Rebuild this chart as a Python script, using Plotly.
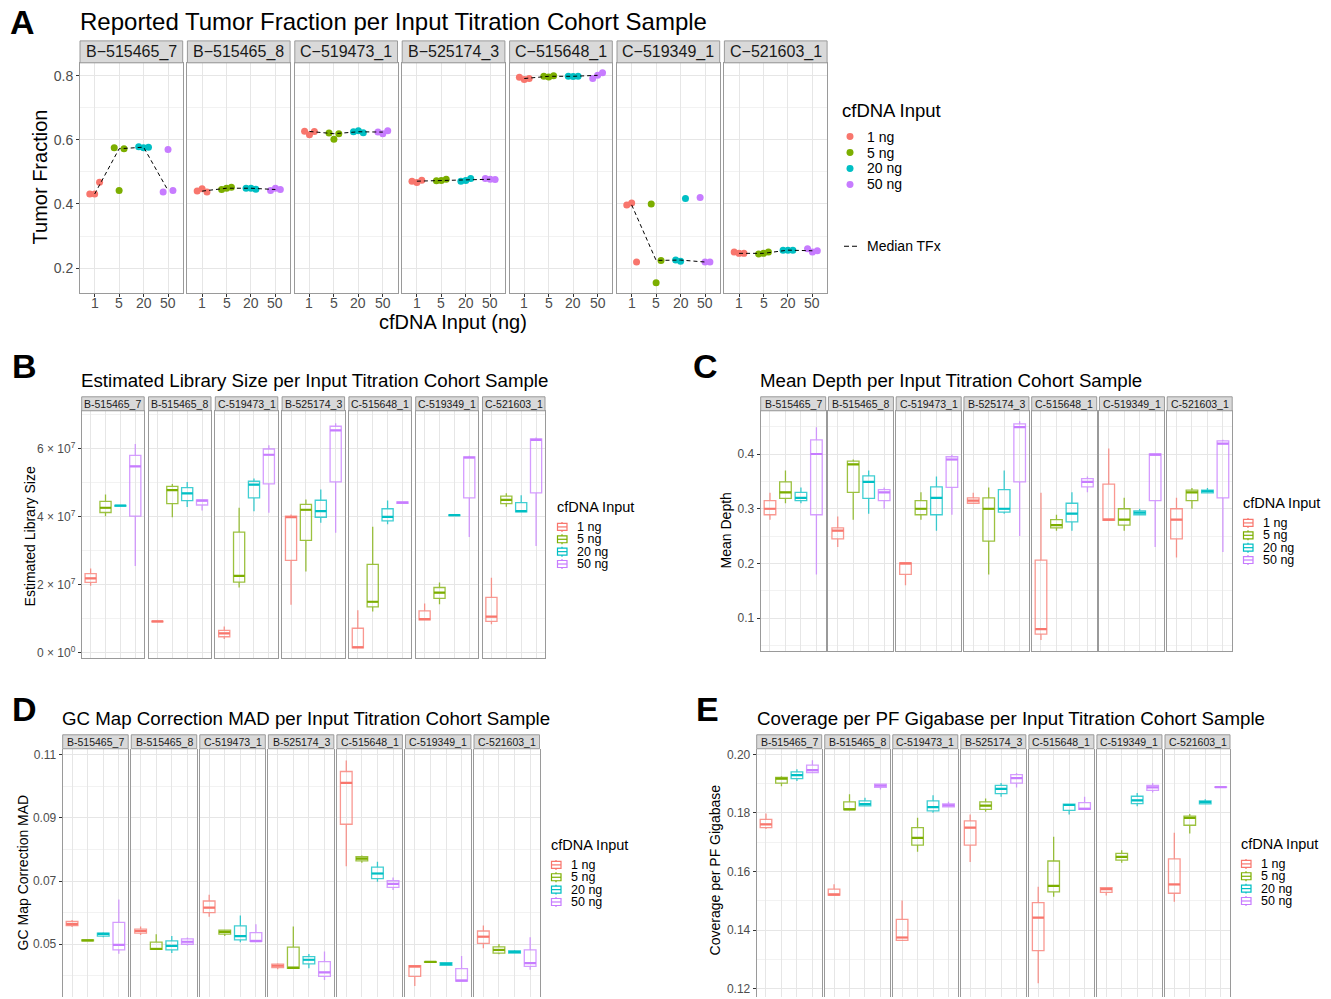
import numpy as np
import plotly.graph_objects as go

W, H = 1331, 999
FONT = "Liberation Sans, Arial, Helvetica, sans-serif"
COLORS = ["#F8766D", "#7CAE00", "#00BFC4", "#C77CFF"]
INPUT_TICKS = ["1", "5", "20", "50"]
INPUT_LABELS = ["1 ng", "5 ng", "20 ng", "50 ng"]
SAMPLES = ["B-515465_7", "B-515465_8", "C-519473_1", "B-525174_3",
           "C-515648_1", "C-519349_1", "C-521603_1"]

# ---- Panel A: reported tumor fraction, 3 replicates per sample (rows) ----
TF_1NG = [[0.431, 0.431, 0.468], [0.440, 0.447, 0.437], [0.627, 0.616, 0.626],
          [0.471, 0.467, 0.474], [0.795, 0.788, 0.791], [0.397, 0.403, 0.219],
          [0.250, 0.246, 0.246]]
TF_5NG = [[0.575, 0.442, 0.572], [0.445, 0.449, 0.452], [0.621, 0.602, 0.619],
          [0.472, 0.473, 0.477], [0.798, 0.796, 0.800], [0.400, 0.154, 0.224],
          [0.244, 0.246, 0.250]]
TF_20NG = [[0.578, 0.575, 0.577], [0.449, 0.449, 0.446], [0.625, 0.628, 0.622],
           [0.471, 0.473, 0.479], [0.798, 0.797, 0.798], [0.225, 0.221, 0.417],
           [0.256, 0.256, 0.256]]
TF_50NG = [[0.437, 0.570, 0.442], [0.442, 0.449, 0.445], [0.624, 0.619, 0.628],
           [0.479, 0.477, 0.476], [0.791, 0.801, 0.809], [0.420, 0.219, 0.219],
           [0.260, 0.250, 0.254]]

# ---- Panel B: estimated library size (x 10^7); rows = samples, cols = inputs ----
LIB_LO = [[1.96, 4.01, 4.30, 2.54], [0.89, 3.98, 4.28, 4.18], [0.39, 1.91, 4.16, 4.11],
          [1.40, 2.38, 3.82, 3.52], [0.12, 1.20, 3.77, 4.38], [0.96, 1.42, 4.02, 3.40],
          [0.83, 4.29, 4.14, 3.13]]
LIB_Q1 = [[2.06, 4.12, 4.31, 4.01], [0.90, 4.38, 4.47, 4.34], [0.46, 2.07, 4.55, 4.96],
          [2.71, 3.30, 3.98, 5.02], [0.13, 1.34, 3.87, 4.39], [0.96, 1.59, 4.03, 4.55],
          [0.91, 4.38, 4.14, 4.70]]
LIB_MED = [[2.18, 4.26, 4.32, 5.48], [0.91, 4.78, 4.68, 4.47], [0.56, 2.25, 4.94, 5.82],
           [3.98, 4.20, 4.16, 6.54], [0.15, 1.49, 3.99, 4.41], [0.98, 1.76, 4.04, 5.74],
           [1.05, 4.49, 4.16, 6.26]]
LIB_Q3 = [[2.32, 4.45, 4.33, 5.80], [0.92, 4.89, 4.85, 4.49], [0.65, 3.54, 5.04, 5.99],
          [4.01, 4.36, 4.48, 6.66], [0.71, 2.59, 4.23, 4.43], [1.22, 1.91, 4.05, 5.76],
          [1.62, 4.60, 4.41, 6.29]]
LIB_HI = [[2.47, 4.65, 4.34, 6.14], [0.93, 4.96, 5.02, 4.50], [0.76, 4.26, 5.12, 6.10],
          [4.06, 4.50, 4.80, 6.75], [1.24, 3.70, 4.47, 4.44], [1.44, 2.06, 4.06, 5.79],
          [2.20, 4.69, 4.63, 6.33]]
LIB_UNIT = 1e7

# ---- Panel C: mean depth ----
DEP_LO = [[0.280, 0.310, 0.310, 0.180], [0.230, 0.280, 0.291, 0.300], [0.160, 0.280, 0.260, 0.289],
          [0.310, 0.180, 0.291, 0.250], [0.060, 0.260, 0.260, 0.330], [0.279, 0.260, 0.289, 0.230],
          [0.211, 0.300, 0.329, 0.221]]
DEP_Q1 = [[0.289, 0.319, 0.315, 0.289], [0.245, 0.330, 0.319, 0.315], [0.180, 0.289, 0.289, 0.339],
          [0.310, 0.241, 0.294, 0.349], [0.071, 0.265, 0.276, 0.340], [0.279, 0.270, 0.289, 0.315],
          [0.245, 0.315, 0.329, 0.320]]
DEP_MED = [[0.300, 0.330, 0.320, 0.400], [0.260, 0.381, 0.349, 0.330], [0.200, 0.300, 0.320, 0.390],
           [0.315, 0.300, 0.300, 0.449], [0.080, 0.270, 0.291, 0.349], [0.280, 0.280, 0.293, 0.399],
           [0.280, 0.330, 0.332, 0.419]]
DEP_Q3 = [[0.315, 0.349, 0.330, 0.426], [0.265, 0.387, 0.360, 0.335], [0.201, 0.315, 0.340, 0.395],
          [0.320, 0.320, 0.335, 0.455], [0.206, 0.280, 0.310, 0.355], [0.345, 0.300, 0.296, 0.400],
          [0.300, 0.334, 0.334, 0.424]]
DEP_HI = [[0.329, 0.370, 0.339, 0.449], [0.286, 0.390, 0.370, 0.339], [0.201, 0.330, 0.359, 0.399],
          [0.329, 0.339, 0.370, 0.460], [0.329, 0.289, 0.330, 0.359], [0.410, 0.320, 0.300, 0.400],
          [0.320, 0.338, 0.338, 0.426]]

# ---- Panel D: GC map correction MAD ----
GC_LO = [[0.0555, 0.0510, 0.0522, 0.0470], [0.0529, 0.0484, 0.0472, 0.0496], [0.0587, 0.0526, 0.0506, 0.0509],
         [0.0421, 0.0424, 0.0424, 0.0387], [0.0747, 0.0758, 0.0698, 0.0672], [0.0368, 0.0443, 0.0433, 0.0383],
         [0.0487, 0.0468, 0.0472, 0.0419]]
GC_Q1 = [[0.0559, 0.0511, 0.0526, 0.0482], [0.0535, 0.0484, 0.0482, 0.0500], [0.0600, 0.0532, 0.0514, 0.0509],
         [0.0426, 0.0424, 0.0438, 0.0398], [0.0880, 0.0764, 0.0708, 0.0680], [0.0398, 0.0443, 0.0433, 0.0383],
         [0.0503, 0.0472, 0.0472, 0.0430]]
GC_MED = [[0.0564, 0.0512, 0.0533, 0.0498], [0.0542, 0.0485, 0.0495, 0.0508], [0.0616, 0.0539, 0.0526, 0.0510],
          [0.0432, 0.0425, 0.0451, 0.0411], [0.1011, 0.0771, 0.0724, 0.0691], [0.0430, 0.0444, 0.0438, 0.0385],
          [0.0524, 0.0482, 0.0476, 0.0440]]
GC_Q3 = [[0.0572, 0.0514, 0.0535, 0.0569], [0.0548, 0.0507, 0.0511, 0.0517], [0.0637, 0.0545, 0.0558, 0.0537],
         [0.0437, 0.0491, 0.0461, 0.0445], [0.1047, 0.0777, 0.0744, 0.0701], [0.0432, 0.0445, 0.0442, 0.0423],
         [0.0542, 0.0492, 0.0479, 0.0482]]
GC_HI = [[0.0577, 0.0515, 0.0538, 0.0642], [0.0556, 0.0532, 0.0526, 0.0521], [0.0657, 0.0547, 0.0591, 0.0563],
         [0.0440, 0.0556, 0.0469, 0.0477], [0.1082, 0.0781, 0.0761, 0.0711], [0.0433, 0.0445, 0.0444, 0.0463],
         [0.0559, 0.0501, 0.0482, 0.0522]]

# ---- Panel E: coverage per PF gigabase ----
COV_LO = [[0.1745, 0.1891, 0.1909, 0.1938], [0.1520, 0.1811, 0.1824, 0.1880], [0.1365, 0.1668, 0.1801, 0.1821],
          [0.1633, 0.1804, 0.1855, 0.1887], [0.1219, 0.1514, 0.1795, 0.1812], [0.1518, 0.1630, 0.1823, 0.1870],
          [0.1497, 0.1730, 0.1831, 0.1886]]
COV_Q1 = [[0.1750, 0.1902, 0.1917, 0.1938], [0.1520, 0.1811, 0.1824, 0.1887], [0.1365, 0.1690, 0.1807, 0.1821],
          [0.1690, 0.1812, 0.1866, 0.1902], [0.1330, 0.1531, 0.1809, 0.1812], [0.1529, 0.1639, 0.1832, 0.1877],
          [0.1526, 0.1758, 0.1831, 0.1887]]
COV_MED = [[0.1761, 0.1917, 0.1929, 0.1946], [0.1521, 0.1812, 0.1830, 0.1893], [0.1375, 0.1715, 0.1820, 0.1826],
           [0.1750, 0.1825, 0.1882, 0.1919], [0.1443, 0.1551, 0.1827, 0.1814], [0.1540, 0.1650, 0.1843, 0.1887],
           [0.1556, 0.1783, 0.1837, 0.1888]]
COV_Q3 = [[0.1778, 0.1921, 0.1940, 0.1963], [0.1540, 0.1838, 0.1841, 0.1898], [0.1437, 0.1750, 0.1841, 0.1831],
          [0.1773, 0.1838, 0.1894, 0.1931], [0.1494, 0.1636, 0.1830, 0.1835], [0.1545, 0.1662, 0.1857, 0.1894],
          [0.1643, 0.1789, 0.1841, 0.1889]]
COV_HI = [[0.1798, 0.1925, 0.1949, 0.1980], [0.1557, 0.1864, 0.1852, 0.1900], [0.1501, 0.1784, 0.1860, 0.1838],
          [0.1795, 0.1849, 0.1902, 0.1936], [0.1548, 0.1719, 0.1830, 0.1855], [0.1545, 0.1673, 0.1868, 0.1902],
          [0.1732, 0.1796, 0.1847, 0.1890]]

# ------------------------------------------------------------------ layout helpers
JITTER = [-0.2, 0.0, 0.2]
BOX_W = 0.75
GRID_MAJOR = "#E6E6E6"
GRID_MINOR = "#F2F2F2"
BORDER = "#9A9A9A"
TICKCOL = "#4D4D4D"


def fx(p):
    return p / W


def fy(p):
    return 1 - p / H


layout = dict(width=W, height=H, margin=dict(l=0, r=0, t=0, b=0),
              paper_bgcolor="white", plot_bgcolor="white", showlegend=False,
              font=dict(family=FONT, color="black"), boxmode="overlay")
shapes, annotations, traces = [], [], []
counter = [0]


def add_axes(left, width, top, bottom, yspec, first, xticks, tick_font, xline=True):
    counter[0] += 1
    n = counter[0]
    sfx = "" if n == 1 else str(n)
    xref, yref = "x" + sfx, "y" + sfx
    xa = dict(domain=[fx(left), fx(left + width)], anchor=yref, range=[0.4, 4.6],
              tickvals=[1, 2, 3, 4], showgrid=True, gridcolor=GRID_MAJOR, gridwidth=1,
              zeroline=False, showline=xline, mirror=True, linecolor=BORDER, linewidth=1,
              showticklabels=False, fixedrange=True)
    if xticks:
        xa.update(ticks="outside", ticklen=3, tickcolor="#333333")
    else:
        xa.update(ticks="")
    ya = dict(domain=[fy(bottom), fy(top)], anchor=xref, range=yspec["range"],
              tick0=yspec["tick0"], dtick=yspec["dtick"], showgrid=True, gridcolor=GRID_MAJOR,
              gridwidth=1, zeroline=False, showline=True, mirror=True, linecolor=BORDER,
              linewidth=1, fixedrange=True,
              minor=dict(tick0=yspec["tick0"], dtick=yspec["dtick"] / 2, showgrid=True,
                         gridcolor=GRID_MINOR, gridwidth=1, ticks=""))
    if first:
        ya.update(ticks="outside", ticklen=3, tickcolor="#333333",
                  tickfont=dict(size=tick_font, color=TICKCOL, family=FONT))
        if "tickformat" in yspec:
            ya["tickformat"] = yspec["tickformat"]
        if "tickvals" in yspec:
            ya.update(tickvals=yspec["tickvals"], ticktext=yspec["ticktext"])
    else:
        ya.update(showticklabels=False, ticks="")
    layout["xaxis" + sfx] = xa
    layout["yaxis" + sfx] = ya
    return xref, yref


def add_strip(left, width, top, bottom, text_s, size):
    shapes.append(dict(type="rect", xref="paper", yref="paper", x0=fx(left), x1=fx(left + width),
                       y0=fy(bottom), y1=fy(top), fillcolor="#D9D9D9",
                       line=dict(color=BORDER, width=1), layer="above"))
    annotations.append(dict(xref="paper", yref="paper", x=fx(left + width / 2), y=fy((top + bottom) / 2),
                            text=text_s, showarrow=False, xanchor="center", yanchor="middle",
                            font=dict(size=size, color="#1A1A1A", family=FONT)))


def text(x, y, s, size, xanchor="left", angle=0, bold=False, color="black"):
    if xanchor == "left":
        x -= 2
    annotations.append(dict(xref="paper", yref="paper", x=fx(x), y=fy(y), text=s, showarrow=False,
                            xanchor=xanchor, yanchor="middle", textangle=angle,
                            font=dict(size=size, color=color, family=FONT,
                                      weight="bold" if bold else "normal")))


# ------------------------------------------------------------------ Panel A
A_LEFT, A_W, A_PITCH, A_TOP, A_BOT = 80, 102.7, 107.4, 62, 293
tf_by_input = [TF_1NG, TF_5NG, TF_20NG, TF_50NG]
yspecA = dict(range=[0.122, 0.840], tick0=0, dtick=0.2, tickformat=".1f")
for k, s in enumerate(SAMPLES):
    left = A_LEFT + k * A_PITCH
    xr, yr = add_axes(left, A_W, A_TOP, A_BOT, yspecA, k == 0, True, 14)
    add_strip(left, A_W, 40, A_TOP, s.replace("-", "\u2212"), 16)
    # x tick labels (category names) placed on the facet's own x axis
    for j, lab in enumerate(INPUT_TICKS):
        annotations.append(dict(xref=xr, yref="paper", x=j + 1, y=fy(303), text=lab,
                                showarrow=False, xanchor="center", yanchor="middle",
                                font=dict(size=14, color=TICKCOL, family=FONT)))
    meds = []
    for j in range(4):
        vals = tf_by_input[j][k]
        meds.append(float(np.median(vals)))
        traces.append(go.Scatter(x=[j + 1 + d for d in JITTER], y=vals, mode="markers",
                                 marker=dict(color=COLORS[j], size=7, line=dict(width=0)),
                                 xaxis=xr, yaxis=yr, hoverinfo="skip"))
    traces.append(go.Scatter(x=[1, 2, 3, 4], y=meds, mode="lines",
                             line=dict(color="black", width=1, dash="4px,3px"),
                             xaxis=xr, yaxis=yr, hoverinfo="skip"))

text(10, 21, "A", 34, bold=True)
text(80, 21, "Reported Tumor Fraction per Input Titration Cohort Sample", 24)
text(40, 177, "Tumor Fraction", 20, xanchor="center", angle=-90)
text(453, 322, "cfDNA Input (ng)", 20, xanchor="center")
# legend A (drawn)
text(842, 110, "cfDNA Input", 18.5)
for j in range(4):
    yy = 136 + 16 * j
    shapes.append(dict(type="circle", xref="paper", yref="paper", x0=fx(846.5), x1=fx(853.5),
                       y0=fy(yy + 3.5), y1=fy(yy - 3.5), fillcolor=COLORS[j], line=dict(width=0)))
    text(867, yy, INPUT_LABELS[j], 14)
for x0 in (844, 852):
    shapes.append(dict(type="line", xref="paper", yref="paper", x0=fx(x0), x1=fx(x0 + 5),
                       y0=fy(246), y1=fy(246), line=dict(color="black", width=1)))
text(867, 246, "Median TFx", 14)


# ------------------------------------------------------------------ box panels
def box_panel(stats, scale, left0, w, pitch, top, bot, strip_top, yspec, xline=True):
    lo, q1, md, q3, hi = stats
    for k, s in enumerate(SAMPLES):
        left = left0 + k * pitch
        xr, yr = add_axes(left, w, top, bot, yspec, k == 0, False, 12, xline)
        add_strip(left, w, strip_top, top, s, 10.5)
        for j in range(4):
            traces.append(go.Box(x=[j + 1], q1=[q1[k][j] * scale], median=[md[k][j] * scale],
                                 q3=[q3[k][j] * scale], lowerfence=[lo[k][j] * scale],
                                 upperfence=[hi[k][j] * scale], orientation="v",
                                 width=BOX_W, whiskerwidth=0, boxpoints=False,
                                 line=dict(color=COLORS[j], width=1.3),
                                 fillcolor="rgba(255,255,255,0)", opacity=0.75,
                                 xaxis=xr, yaxis=yr, hoverinfo="skip"))
            traces.append(go.Scatter(x=[j + 1 - BOX_W / 2, j + 1 + BOX_W / 2],
                                     y=[md[k][j] * scale] * 2, mode="lines",
                                     line=dict(color=COLORS[j], width=2.2),
                                     xaxis=xr, yaxis=yr, hoverinfo="skip"))


def box_legend(x, y_title):
    text(x, y_title, "cfDNA Input", 14.5)
    for j in range(4):
        yy = y_title + 19.5 + 12.4 * j
        c = COLORS[j]
        shapes.append(dict(type="line", xref="paper", yref="paper", x0=fx(x + 5), x1=fx(x + 5),
                           y0=fy(yy + 5), y1=fy(yy - 5), line=dict(color=c, width=1.2)))
        shapes.append(dict(type="rect", xref="paper", yref="paper", x0=fx(x + 0.5), x1=fx(x + 10),
                           y0=fy(yy + 3.5), y1=fy(yy - 3.5), fillcolor="white",
                           line=dict(color=c, width=1.2)))
        shapes.append(dict(type="line", xref="paper", yref="paper", x0=fx(x + 0.5), x1=fx(x + 10),
                           y0=fy(yy), y1=fy(yy), line=dict(color=c, width=1.2)))
        text(x + 20, yy, INPUT_LABELS[j], 12.5)


TITLE_SIZE = 18.7

# Panel B
libspec = dict(range=[-0.167e7, 7.116e7], tick0=0, dtick=2e7, tickvals=[0, 2e7, 4e7, 6e7],
               ticktext=["0 \u00d7 10<sup>0</sup>", "2 \u00d7 10<sup>7</sup>",
                         "4 \u00d7 10<sup>7</sup>", "6 \u00d7 10<sup>7</sup>"])
box_panel((LIB_LO, LIB_Q1, LIB_MED, LIB_Q3, LIB_HI), LIB_UNIT, 81.7, 62.5, 66.8, 411, 659, 397, libspec)
text(12, 366, "B", 34, bold=True)
text(81, 381, "Estimated Library Size per Input Titration Cohort Sample", TITLE_SIZE)
text(30, 537, "Estimated Library Size", 14, xanchor="center", angle=-90)
box_legend(557, 508)

# Panel C
depspec = dict(range=[0.040, 0.479], tick0=0, dtick=0.1, tickformat=".1f")
box_panel((DEP_LO, DEP_Q1, DEP_MED, DEP_Q3, DEP_HI), 1.0, 760.7, 65, 67.75, 411, 652, 397, depspec)
text(693, 366, "C", 34, bold=True)
text(760, 381, "Mean Depth per Input Titration Cohort Sample", TITLE_SIZE)
text(726, 531, "Mean Depth", 14, xanchor="center", angle=-90)
box_legend(1243, 504)

# Panel D (panel continues past the bottom edge: no bottom border)
gcspec = dict(range=[0.0333, 0.1119], tick0=0.01, dtick=0.02, tickformat=".2f")
box_panel((GC_LO, GC_Q1, GC_MED, GC_Q3, GC_HI), 1.0, 62.7, 65.5, 68.55, 750, 999, 736, gcspec, xline=False)
text(12, 710, "D", 34, bold=True)
text(62, 720, "GC Map Correction MAD per Input Titration Cohort Sample", TITLE_SIZE)
text(23, 874, "GC Map Correction MAD", 14, xanchor="center", angle=-90)
box_legend(551, 847)

# Panel E
covspec = dict(range=[0.1172, 0.2019], tick0=0.0, dtick=0.02, tickformat=".2f")
box_panel((COV_LO, COV_Q1, COV_MED, COV_Q3, COV_HI), 1.0, 756.7, 65, 68.05, 750, 999, 736, covspec, xline=False)
text(696, 710, "E", 34, bold=True)
text(757, 720, "Coverage per PF Gigabase per Input Titration Cohort Sample", TITLE_SIZE)
text(715, 872, "Coverage per PF Gigabase", 14, xanchor="center", angle=-90)
box_legend(1241, 846)

layout["shapes"] = shapes
layout["annotations"] = annotations
fig = go.Figure(data=traces, layout=layout)
fig.write_html("out.html", config={"displayModeBar": False})
